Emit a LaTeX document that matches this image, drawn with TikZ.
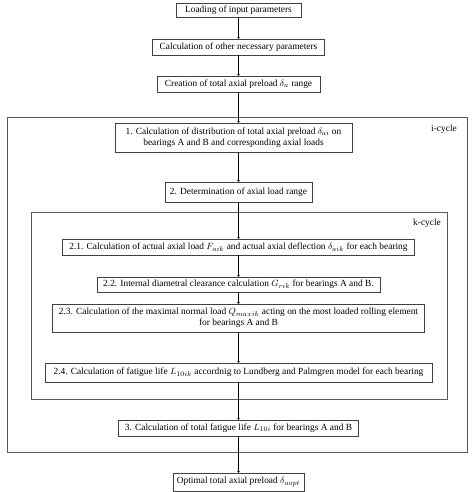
\documentclass[tikz,border=0pt]{standalone}
\usepackage{fontspec}
\setmainfont{Liberation Serif}
\tikzset{
  stepbox/.style={draw=black!75, line width=0.6pt, inner sep=1pt, align=center, font=\fontsize{9.4}{11}\selectfont},
  cyclebox/.style={draw=black!65, line width=0.9pt, inner sep=0pt},
  cyclelabel/.style={font=\fontsize{9.4}{11}\selectfont},
}
\begin{document}
\begin{tikzpicture}[x=1pt,y=1pt]
  \useasboundingbox (0,0) rectangle (474,492);
  % cycle frames
  \node[cyclebox, minimum width=460pt, minimum height=335pt] (icycle) at (237,207.5) {};
  \node[cyclebox, minimum width=416pt, minimum height=187pt] (kcycle) at (239,186.5) {};
  \node[cyclelabel] (ilabel) at (444,363) {i-cycle};
  \node[cyclelabel] (klabel) at (427,269) {k-cycle};
  % steps
  \node[stepbox, minimum width=125pt, minimum height=14pt] (load) at (238.5,482) {Loading of input parameters};
  \node[stepbox, minimum width=172pt, minimum height=16pt] (other) at (238.5,445) {Calculation of other necessary parameters};
  \node[stepbox, minimum width=163pt, minimum height=16pt] (range) at (238.5,408) {Creation of total axial preload $\delta_{a}$ range};
  \node[stepbox, minimum width=237pt, minimum height=29pt] (c1) at (233.5,354.5) {1. Calculation of distribution of total axial preload $\delta_{ai}$ on\\ bearings A and B and corresponding axial loads};
  \node[stepbox, minimum width=147pt, minimum height=20pt] (c2) at (238.5,300) {2. Determination of axial load range};
  \node[stepbox, minimum width=352pt, minimum height=16pt] (c21) at (238.5,245) {2.1. Calculation of actual axial load $F_{aik}$ and actual axial deflection $\delta_{aik}$ for each bearing};
  \node[stepbox, minimum width=283pt, minimum height=15pt] (c22) at (238.5,207.5) {2.2. Internal diametral clearance calculation $G_{rik}$ for bearings A and B.};
  \node[stepbox, minimum width=372pt, minimum height=28pt] (c23) at (238.5,174) {2.3. Calculation of the maximal normal load $Q_{maxik}$ acting on the most loaded rolling element\\ for bearings A and B};
  \node[stepbox, minimum width=387pt, minimum height=19pt] (c24) at (238.5,119.5) {2.4. Calculation of fatigue life $L_{10ik}$ accordnig to Lundberg and Palmgren model for each bearing};
  \node[stepbox, minimum width=240pt, minimum height=16pt] (c3) at (238.5,64) {3. Calculation of total fatigue life $L_{10i}$ for bearings A and B};
  \node[stepbox, minimum width=131pt, minimum height=18pt] (opt) at (238.5,10) {Optimal total axial preload $\delta_{aopt}$};
  % connectors
  \draw[->] (load) -- (other);
  \draw[->] (other) -- (range);
  \draw[->] (range) -- (range |- c1.north);
  \draw[->] (c1.south -| c2) -- (c2);
  \draw[->] (c2) -- (c21);
  \draw[->] (c21) -- (c22);
  \draw[->] (c22) -- (c23);
  \draw[->] (c23) -- (c24);
  \draw[->] (c24) -- (c3);
  \draw[->] (c3) -- (opt);
\end{tikzpicture}
\end{document}
